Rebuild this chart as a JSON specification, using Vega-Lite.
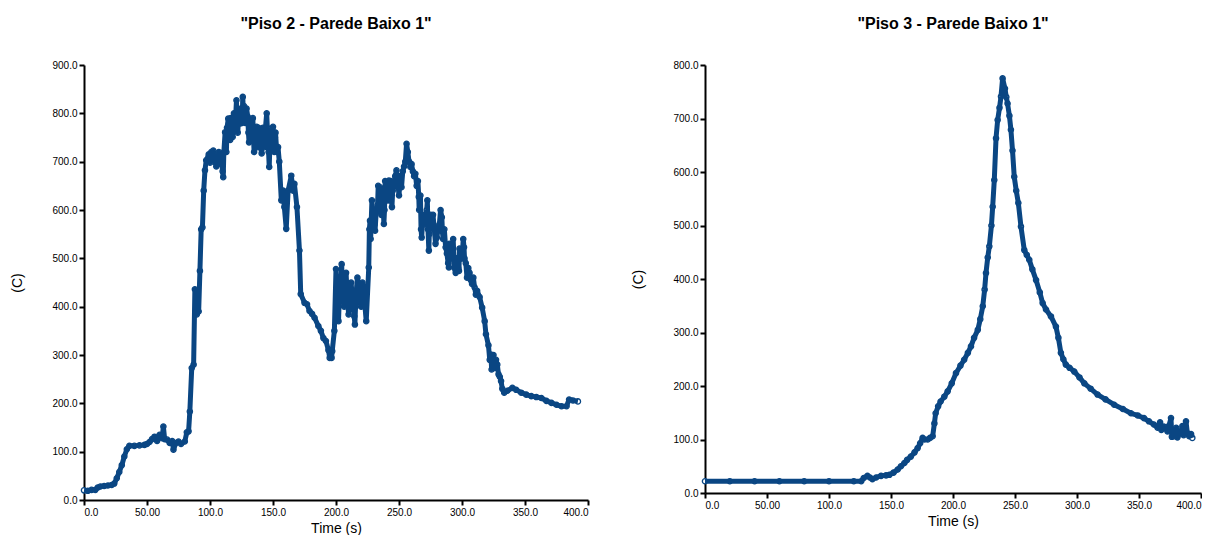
{
  "$schema": "https://vega.github.io/schema/vega-lite/v6.json",
  "background": "white",
  "padding": {"left": 10, "top": 16, "right": 0, "bottom": 0},
  "spacing": 42,
  "config": {
    "view": {"stroke": null},
    "axis": {
      "grid": false,
      "domainColor": "black",
      "domainWidth": 2,
      "tickColor": "black",
      "tickWidth": 2,
      "tickSize": 5,
      "labelFont": "Liberation Sans",
      "labelFontSize": 10,
      "labelColor": "black",
      "labelPadding": 2,
      "titleFont": "Liberation Sans",
      "titleFontSize": 14,
      "titleFontWeight": "normal",
      "titleColor": "black"
    },
    "title": {"font": "Liberation Sans", "fontSize": 16, "fontWeight": "bold", "color": "black", "anchor": "middle", "offset": 28}
  },
  "datasets": {
    "p2": [
      {"t":0,"c":20},{"t":3,"c":19},{"t":6,"c":21},{"t":9,"c":21},{"t":11,"c":26},{"t":13,"c":28},{"t":16,"c":29},{"t":19,"c":30},{"t":22,"c":31},{"t":24,"c":34},{"t":26,"c":45},{"t":28,"c":58},{"t":30,"c":72},{"t":32,"c":90},{"t":34,"c":105},{"t":36,"c":112},{"t":40,"c":112},{"t":44,"c":113},{"t":48,"c":114},{"t":50,"c":116},{"t":52,"c":120},{"t":54,"c":126},{"t":56,"c":131},{"t":58,"c":122},{"t":60,"c":135},{"t":62,"c":128},{"t":63,"c":152},{"t":64,"c":126},{"t":66,"c":125},{"t":68,"c":118},{"t":70,"c":122},{"t":71,"c":104},{"t":73,"c":118},{"t":75,"c":121},{"t":77,"c":116},{"t":80,"c":121},{"t":81.6,"c":140},{"t":83,"c":142},{"t":84,"c":183},{"t":85.5,"c":273},{"t":87,"c":280},{"t":88,"c":436},{"t":89.5,"c":384},{"t":91,"c":390},{"t":92,"c":474},{"t":93,"c":560},{"t":94,"c":564},{"t":95,"c":640},{"t":96,"c":682},{"t":97,"c":703},
      {"t":99,"c":715},{"t":100,"c":698},{"t":101,"c":720},{"t":102,"c":712},{"t":102.6,"c":723},{"t":103,"c":700},{"t":104,"c":712},{"t":105,"c":690},{"t":106.6,"c":696},{"t":107,"c":720},{"t":108,"c":706},{"t":109,"c":703},{"t":110,"c":680},{"t":110.5,"c":668},{"t":111,"c":720},{"t":112,"c":761},{"t":112.5,"c":740},{"t":113,"c":720},{"t":113.5,"c":770},{"t":114.5,"c":789},{"t":115,"c":760},{"t":116,"c":745},{"t":116.5,"c":790},{"t":117,"c":760},{"t":118,"c":751},{"t":118.5,"c":790},{"t":119,"c":800},{"t":119.5,"c":765},{"t":120,"c":770},{"t":120.5,"c":800},{"t":121,"c":827},{"t":121.5,"c":790},{"t":122,"c":760},{"t":123,"c":800},{"t":124,"c":779},{"t":124.5,"c":810},{"t":125,"c":800},{"t":125.5,"c":780},{"t":126,"c":834},{"t":126.5,"c":800},{"t":127,"c":815},{"t":128,"c":780},{"t":129,"c":810},{"t":130,"c":793},{"t":130.5,"c":760},{"t":131,"c":740},{"t":132,"c":780},{"t":133,"c":744},{"t":133.5,"c":770},{"t":134,"c":790},{"t":134.5,"c":750},{"t":135,"c":720},{"t":136,"c":770},{"t":137,"c":772},{"t":137.5,"c":740},{"t":138,"c":730},{"t":138.5,"c":770},{"t":139,"c":760},{"t":140,"c":735},{"t":141,"c":717},{"t":141.5,"c":760},{"t":142,"c":770},{"t":142.5,"c":735},{"t":143,"c":730},{"t":144,"c":770},{"t":145,"c":800},{"t":145.5,"c":770},{"t":146,"c":760},{"t":146.5,"c":720},{"t":147,"c":689},{"t":147.5,"c":730},{"t":148,"c":740},{"t":149,"c":760},{"t":150,"c":772},{"t":150.5,"c":740},{"t":151,"c":720},{"t":151.5,"c":750},{"t":152,"c":760},{"t":153,"c":720},{"t":154,"c":730},{"t":155,"c":700},
      {"t":156.6,"c":620},{"t":158,"c":640},{"t":159,"c":606},{"t":160.5,"c":561},{"t":162,"c":640},{"t":164.5,"c":671},{"t":166,"c":640},{"t":167,"c":654},{"t":169,"c":606},{"t":171,"c":516},{"t":172,"c":426},{"t":175,"c":408},{"t":177,"c":405},{"t":179,"c":391},{"t":181,"c":385},{"t":183,"c":377},{"t":186,"c":360},{"t":188,"c":350},{"t":190,"c":335},{"t":192,"c":329},{"t":194,"c":310},{"t":195,"c":294},{"t":196.5,"c":294},{"t":197,"c":308},{"t":198.7,"c":350},
      {"t":200,"c":478},{"t":200.5,"c":430},{"t":201,"c":420},{"t":201.5,"c":460},{"t":202,"c":370},{"t":202.5,"c":410},{"t":203,"c":430},{"t":204,"c":460},{"t":204.5,"c":488},{"t":205,"c":440},{"t":206,"c":440},{"t":206.5,"c":400},{"t":207,"c":426},{"t":208,"c":470},{"t":209,"c":420},{"t":210,"c":384},{"t":210.5,"c":410},{"t":211,"c":420},{"t":212,"c":450},{"t":212.5,"c":433},{"t":213,"c":395},{"t":214,"c":400},{"t":214.5,"c":380},{"t":215,"c":363},{"t":215.5,"c":400},{"t":216,"c":430},{"t":217,"c":460},{"t":218,"c":447},{"t":218.5,"c":410},{"t":219,"c":420},{"t":220,"c":400},{"t":220.5,"c":426},{"t":221,"c":450},{"t":222,"c":440},{"t":223,"c":400},{"t":224,"c":370},
      {"t":226,"c":481},{"t":226.5,"c":560},{"t":227,"c":578},{"t":227.5,"c":540},{"t":228.5,"c":620},{"t":229,"c":580},{"t":230,"c":600},{"t":230.5,"c":570},{"t":231,"c":557},{"t":232,"c":600},{"t":233,"c":610},{"t":233.5,"c":650},{"t":234,"c":620},{"t":235,"c":647},{"t":235.5,"c":600},{"t":236,"c":590},{"t":237,"c":640},{"t":238,"c":571},{"t":238.5,"c":600},{"t":239,"c":660},{"t":240,"c":640},{"t":241,"c":620},{"t":242,"c":661},{"t":242.5,"c":640},{"t":243,"c":620},{"t":243.5,"c":660},{"t":244.4,"c":606},{"t":245,"c":640},{"t":246,"c":650},{"t":247,"c":670},{"t":248,"c":682},{"t":248.5,"c":650},{"t":249,"c":660},{"t":250,"c":630},{"t":251,"c":670},{"t":252,"c":647},{"t":253,"c":680},{"t":254,"c":690},{"t":255,"c":700},{"t":256,"c":737},{"t":257,"c":720},{"t":258,"c":700},{"t":259,"c":689},{"t":260,"c":695},{"t":261,"c":680},{"t":262,"c":670},{"t":263,"c":675},{"t":264,"c":650},{"t":265,"c":660},{"t":265.7,"c":627},{"t":266,"c":600},{"t":267,"c":630},{"t":267.5,"c":560},{"t":268,"c":543},{"t":269,"c":590},{"t":270,"c":570},{"t":271,"c":578},{"t":272,"c":600},{"t":272.5,"c":620},{"t":273,"c":560},{"t":273.7,"c":516},{"t":274,"c":550},{"t":275,"c":590},{"t":276,"c":571},{"t":277,"c":590},{"t":278,"c":560},{"t":279,"c":530},{"t":280,"c":543},{"t":281,"c":560},{"t":282,"c":570},{"t":283,"c":600},{"t":284,"c":585},{"t":284.5,"c":555},{"t":285,"c":540},{"t":286,"c":560},{"t":287,"c":523},{"t":288,"c":510},{"t":289,"c":490},{"t":289.6,"c":481},{"t":290,"c":530},{"t":291,"c":520},{"t":292,"c":500},{"t":293,"c":540},{"t":293.6,"c":502},{"t":294,"c":480},{"t":295,"c":470},{"t":296,"c":500},{"t":297,"c":480},{"t":297.6,"c":474},{"t":298,"c":520},{"t":299,"c":500},{"t":300,"c":500},{"t":301,"c":540},{"t":301.6,"c":523},{"t":302,"c":500},{"t":303,"c":490},{"t":304,"c":460},{"t":305,"c":480},{"t":306,"c":470},{"t":307,"c":455},{"t":308,"c":447},{"t":309,"c":460},{"t":310,"c":440},{"t":311,"c":425},{"t":312,"c":433},{"t":314,"c":420},{"t":316,"c":398},{"t":318,"c":370},{"t":319,"c":343},{"t":321,"c":320},{"t":322,"c":290},{"t":323,"c":301},{"t":323.5,"c":270},{"t":324,"c":280},{"t":325,"c":300},{"t":325.6,"c":273},{"t":327,"c":290},{"t":328,"c":280},{"t":329,"c":260},{"t":330,"c":255},{"t":331,"c":246},{"t":332,"c":230},{"t":333.5,"c":222},{"t":336,"c":226},{"t":340,"c":232},{"t":343,"c":228},{"t":347,"c":222},{"t":351,"c":218},{"t":355,"c":215},{"t":359,"c":213},{"t":363,"c":211},{"t":367,"c":205},{"t":371,"c":201},{"t":375,"c":197},{"t":379,"c":194},{"t":383,"c":194},{"t":385,"c":208},{"t":388,"c":206},{"t":392,"c":204}
    ],
    "p3": [
      {"t":0,"c":22},{"t":20,"c":22},{"t":40,"c":22},{"t":60,"c":22},{"t":80,"c":22},{"t":100,"c":22},{"t":120,"c":22},{"t":126,"c":22},{"t":128,"c":28},{"t":131,"c":32},{"t":133,"c":29},{"t":135,"c":26},{"t":138,"c":29},{"t":142,"c":32},{"t":146,"c":33},{"t":148.7,"c":34},{"t":152,"c":38},{"t":155.4,"c":44},{"t":158,"c":50},{"t":160.8,"c":56},{"t":163,"c":62},{"t":166,"c":68},{"t":169,"c":76},{"t":171.5,"c":84},{"t":173.5,"c":93},{"t":175.5,"c":103},{"t":177,"c":100},{"t":179.6,"c":100},{"t":181.5,"c":103},{"t":183.6,"c":106},{"t":185,"c":130},{"t":186,"c":149},{"t":188,"c":162},{"t":190,"c":171},{"t":193,"c":180},{"t":195.7,"c":190},{"t":199,"c":205},{"t":202.4,"c":224},{"t":206,"c":238},{"t":209,"c":249},{"t":212,"c":262},{"t":214.5,"c":274},{"t":217,"c":290},{"t":220,"c":305},{"t":222,"c":325},{"t":224,"c":349},{"t":225.5,"c":380},{"t":226.6,"c":411},{"t":228,"c":440},{"t":229.3,"c":461},{"t":231,"c":500},{"t":232,"c":535},{"t":233.3,"c":585},{"t":234.7,"c":663},{"t":236,"c":697},{"t":237.5,"c":720},{"t":238.7,"c":741},{"t":240,"c":775},{"t":241.9,"c":756},{"t":243,"c":740},{"t":244,"c":728},{"t":245.5,"c":705},{"t":246.7,"c":679},{"t":248,"c":640},{"t":249.4,"c":591},{"t":251,"c":565},{"t":252.7,"c":542},{"t":254.8,"c":498},{"t":257.5,"c":454},{"t":259.5,"c":445},{"t":261.5,"c":436},{"t":264,"c":418},{"t":267,"c":398},{"t":270,"c":375},{"t":272.3,"c":355},{"t":275,"c":343},{"t":279,"c":330},{"t":283,"c":311},{"t":285,"c":290},{"t":287,"c":262},{"t":289,"c":250},{"t":291,"c":240},{"t":294,"c":234},{"t":297.8,"c":227},{"t":302,"c":216},{"t":305.9,"c":205},{"t":311,"c":195},{"t":316.6,"c":184},{"t":323,"c":175},{"t":330,"c":165},{"t":337,"c":157},{"t":343.5,"c":149},{"t":349,"c":145},{"t":354,"c":140},{"t":358,"c":134},{"t":362,"c":128},{"t":365,"c":122},{"t":367,"c":132},{"t":368,"c":118},{"t":370,"c":124},{"t":373,"c":115},{"t":374,"c":125},{"t":375.8,"c":140},{"t":376.5,"c":105},{"t":378.5,"c":106},{"t":380,"c":122},{"t":381,"c":104},{"t":383.8,"c":115},{"t":385,"c":125},{"t":386,"c":108},{"t":387.9,"c":134},{"t":389,"c":112},{"t":390.5,"c":106},{"t":392,"c":110},{"t":393,"c":103}
    ]
  },
  "hconcat": [
    {
      "title": "\"Piso 2 - Parede Baixo 1\"",
      "width": 504,
      "height": 435,
      "data": {"name": "p2"},
      "encoding": {
        "x": {"field": "t", "type": "quantitative", "scale": {"domain": [0, 400], "nice": false}, "axis": {"title": "Time (s)", "values": [0, 50, 100, 150, 200, 250, 300, 350, 400], "labelExpr": "datum.value == 50 ? '50.00' : format(datum.value, '.1f')", "titlePadding": 4}},
        "y": {"field": "c", "type": "quantitative", "scale": {"domain": [0, 900], "nice": false}, "axis": {"title": "(C)", "values": [0, 100, 200, 300, 400, 500, 600, 700, 800, 900], "format": ".1f", "titlePadding": 27}}
      },
      "layer": [
        {"mark": {"type": "point", "shape": "circle", "filled": true, "fill": "white", "stroke": "#0a4683", "strokeWidth": 1.3, "size": 28, "opacity": 1}},
        {"mark": {"type": "line", "color": "#0a4683", "strokeWidth": 5, "strokeJoin": "round"}}
      ]
    },
    {
      "title": "\"Piso 3 - Parede Baixo 1\"",
      "width": 496,
      "height": 428,
      "data": {"name": "p3"},
      "encoding": {
        "x": {"field": "t", "type": "quantitative", "scale": {"domain": [0, 400], "nice": false}, "axis": {"title": "Time (s)", "values": [0, 50, 100, 150, 200, 250, 300, 350, 400], "labelExpr": "datum.value == 50 ? '50.00' : format(datum.value, '.1f')", "titlePadding": 4}},
        "y": {"field": "c", "type": "quantitative", "scale": {"domain": [0, 800], "nice": false}, "axis": {"title": "(C)", "values": [0, 100, 200, 300, 400, 500, 600, 700, 800], "format": ".1f", "titlePadding": 27}}
      },
      "layer": [
        {"mark": {"type": "point", "shape": "circle", "filled": true, "fill": "white", "stroke": "#0a4683", "strokeWidth": 1.3, "size": 28, "opacity": 1}},
        {"mark": {"type": "line", "color": "#0a4683", "strokeWidth": 5, "strokeJoin": "round"}}
      ]
    }
  ]
}
